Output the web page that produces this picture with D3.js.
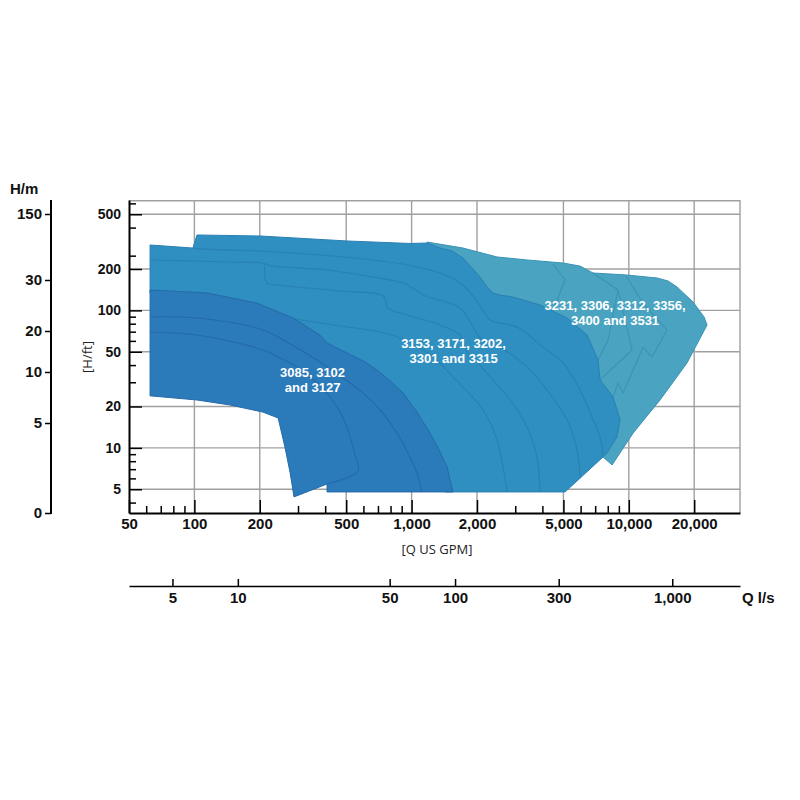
<!DOCTYPE html>
<html>
<head>
<meta charset="utf-8">
<script src="https://cdn.jsdelivr.net/npm/d3@7"></script>
<style>
  body { margin: 0; background: #fff; }
  text { font-family: "Liberation Sans", Arial, sans-serif; }
</style>
</head>
<body>
<div id="chart"></div>
<script>
// tick values
var gpmMajor = [50, 100, 200, 500, 1000, 2000, 5000, 10000, 20000];
var gpmMinor = [60, 70, 80, 90, 300, 400, 600, 700, 800, 900, 3000, 4000, 6000, 7000, 8000, 9000];
var ftMajor = [5, 10, 20, 50, 100, 200, 500];
var ftMinor = [4, 6, 7, 8, 9, 30, 40, 60, 70, 80, 90, 250, 400, 600];
var lsTicks = [5, 10, 50, 100, 300, 1000];
var mTicks = [0, 5, 10, 20, 30, 150];

// pump ranges, [Q US GPM, H ft]
var rangeC = [[1178,304],[1178,314],[1725,284],[2474,244.6],[3399,232.6],[4979,221],[5963,210],[6845,187],
  [9712,181],[13488,172],[15157,163.6],[16673,148],[19757,115],[22205,89.5],[22923,78.3],[18536,41.5],
  [13924,22.3],[10460,12.8],[8372,7.51],[7610,8.59],[6992,11.4],[6631,22.3],[5963,51.5],[4338,85.1],
  [2554,109.5],[1858,166.4],[1352,257],[1178,284]];
var rangeB = [[62.5,299],[98.5,284],[102.8,353.5],[200.5,347.6],[504,319.7],[984,306.6],[1178,309],
  [1352,284],[1535,270.4],[1725,240.5],[2066,175],[2224,148],[2371,133.8],[2554,129.4],[2931,125],
  [3900,109.5],[5195,88],[6423,66.2],[7218,43.6],[7373,31.2],[8461,23.5],[9113,16],[8827,12],
  [7940,9.18],[7610,8.59],[5086,4.78],[1425,4.78],[1352,7.26],[1129,12.8],[857,25.1],[644,35.6],
  [379,51.5],[200.5,97.3],[102.8,121],[62.5,133.8]];
var rangeA = [[62.5,140.7],[114,134],[194,113],[285,88],[379,66],[408,58],[435,55],[537,46.6],
  [610,42.2],[693,36.9],[796,30.7],[913,25.1],[1059,18.2],[1216,12.8],[1338,9.66],[1456,7.26],
  [1503,5.84],[1551,4.78],[408,4.78],[408,5.46],[287.5,4.4],[276,6.57],[261,10.2],[243,16.5],
  [207,18.2],[146,20.5],[102.8,22.3],[62.5,23.9]];

// single pump curves inside each range
var curvesC = [
  [[4479,217.5],[5086,166.4],[4338,88]],
  [[6845,187],[8921,140.7],[8024,61],[7218,43.6]],
  [[8921,140.7],[10350,51.5],[7373,31.2]],
  [[9712,177.9],[11628,113],[14998,72],[12792,45.8],[11628,54],[9407,25.1],[8921,29.7],[8461,23.5]]
];
var curvesB = [
  [[98.5,284],[106,280],[200.5,270.4],[435,248.7],[665,232.6],[953,214],[1352,187],[1725,153],
   [2133,100.7],[2297,85.1],[3058,75.7],[4026,54],[4979,41.5],[5963,26.4],[6845,16],[7373,12],[7610,8.73]],
  [[62.5,232.6],[146,225],[205,221],[228,210],[408,196.7],[665,175],[913,158],[1059,138.4],
   [1129,129.4],[1671,104],[1918,75.7],[2066,63],[2554,54],[3399,38.8],[4201,26.4],[5195,16],
   [5777,9.66],[5963,5.98]],
  [[211,220],[216,158],[240,153],[468,138.4],[739,127],[779,104],[953,92.6],[1352,78.3],[1671,66.2],
   [1800,49.8],[2001,42.2],[2297,32.8],[2840,22.3],[3399,14.2],[3778,8.59],[3900,4.78]],
  [[291,86.6],[468,77],[678,70.8],[885,63],[1255,45.8],[1551,32.8],[2133,18.9],[2474,11.4],
   [2636,7.26],[2751,4.78]]
];
var curvesA = [
  [[62.5,89.5],[102.8,88],[207,72],[276,57],[367,43.6],[468,33.3],[597,25.1],[731,18.2],[857,12.8],
   [973,8.88],[1059,6.57],[1117,4.78]],
  [[62.5,69.7],[102.8,66.2],[207,51.5],[248,45.1],[297,38.8],[359,30.7],[421,23.5],[478,17.1],
   [521,12],[549,8.88],[567,6.79],[408,5.46]]
];

var labelA = ["3085, 3102", "and 3127"], anchorA = [350, 31.2];
var labelB = ["3153, 3171, 3202,", "3301 and 3315"], anchorB = [1560, 50.8];
var labelC = ["3231, 3306, 3312, 3356,", "3400 and 3531"], anchorC = [8640, 95.3];

var plotL = 129, plotR = 740, plotT = 200, plotB = 513;

var svg = d3.select("#chart").append("svg")
  .attr("width", 800).attr("height", 800);

var x = d3.scaleLog().domain([50, 32500]).range([plotL, plotR]);
var y = d3.scaleLog().domain([3.36, 635]).range([plotB, plotT]);
// l/s axis: 1 l/s = 15.85 US GPM
var xl = d3.scaleLog().domain([50 / 15.85, 32500 / 15.85]).range([plotL, plotR]);
// metre scale of the original is not proportional, so piecewise
var ym = d3.scaleLinear().domain(mTicks).range([513, 423, 372, 331, 280, 214]);

// grid
var grid = svg.append("g").attr("stroke", "#a0a0a0").attr("stroke-width", 1.4);
grid.selectAll("line.v").data(gpmMajor.slice(1)).enter().append("line")
  .attr("x1", d => x(d)).attr("x2", d => x(d)).attr("y1", plotT).attr("y2", plotB);
grid.selectAll("line.h").data(ftMajor).enter().append("line")
  .attr("x1", plotL).attr("x2", plotR).attr("y1", d => y(d)).attr("y2", d => y(d));
grid.append("line").attr("x1", plotL).attr("x2", plotR).attr("y1", plotT + 0.7).attr("y2", plotT + 0.7);
grid.append("line").attr("x1", plotR).attr("x2", plotR).attr("y1", plotT).attr("y2", plotB);

// outlines keep their corners, pump curves of the two smaller ranges are smoothed
var outline = d3.line().x(d => x(d[0])).y(d => y(d[1]));
var smoothLine = d3.line().x(d => x(d[0])).y(d => y(d[1])).curve(d3.curveCatmullRom.alpha(0.5));

function drawRange(shape, curves, fill, stroke, lineGen) {
  svg.append("path").attr("d", outline(shape) + "Z")
    .attr("fill", fill).attr("stroke", stroke).attr("stroke-width", 1)
    .attr("stroke-linejoin", "round");
  svg.append("g").selectAll("path").data(curves).enter().append("path")
    .attr("d", d => lineGen(d))
    .attr("fill", "none").attr("stroke", stroke).attr("stroke-width", 1.1)
    .attr("stroke-linejoin", "round");
}
drawRange(rangeC, curvesC, "#4aa4c1", "#3893b5", outline);
drawRange(rangeB, curvesB, "#2e8fc0", "#2a80b3", smoothLine);
drawRange(rangeA, curvesA, "#2b7aba", "#256aa9", smoothLine);

function drawLabel(lines, anchor) {
  var t = svg.append("text")
    .attr("x", x(anchor[0])).attr("y", y(anchor[1]))
    .attr("text-anchor", "middle").attr("fill", "#fff")
    .attr("font-size", 13).attr("font-weight", "bold");
  lines.forEach(function(s, i) {
    t.append("tspan").attr("x", x(anchor[0]))
      .attr("dy", i === 0 ? "-0.25em" : "1.17em").text(s);
  });
}
drawLabel(labelA, anchorA);
drawLabel(labelB, anchorB);
drawLabel(labelC, anchorC);

function styleAxis(g, size) {
  g.attr("font-family", "Liberation Sans, Arial, sans-serif")
    .attr("font-size", size).attr("font-weight", "bold");
  g.selectAll(".tick line").attr("stroke-width", 1.5);
  g.selectAll(".domain").attr("stroke-width", 2);
  g.selectAll(".tick text").attr("fill", "#111");
}

// H ft axis
svg.append("g").attr("transform", "translate(" + plotL + ",0)")
  .call(d3.axisLeft(y).tickValues(ftMinor).tickSize(-7).tickSizeOuter(0).tickFormat(""))
  .call(g => g.select(".domain").remove())
  .call(g => g.selectAll(".tick line").attr("stroke-width", 1.5));
svg.append("g").attr("transform", "translate(" + plotL + ",0)")
  .call(d3.axisLeft(y).tickValues(ftMajor).tickSize(-13).tickSizeOuter(0).tickPadding(8).tickFormat(d3.format("d")))
  .call(g => styleAxis(g, 14));

// Q GPM axis
svg.append("g").attr("transform", "translate(0," + plotB + ")")
  .call(d3.axisBottom(x).tickValues(gpmMinor).tickSize(-7).tickSizeOuter(0).tickFormat(""))
  .call(g => g.select(".domain").remove())
  .call(g => g.selectAll(".tick line").attr("stroke-width", 1.5));
svg.append("g").attr("transform", "translate(0," + plotB + ")")
  .call(d3.axisBottom(x).tickValues(gpmMajor).tickSize(-13).tickSizeOuter(0).tickPadding(5).tickFormat(d3.format(",")))
  .call(g => styleAxis(g, 15));

// Q l/s axis
svg.append("g").attr("transform", "translate(0,586)")
  .call(d3.axisBottom(xl).tickValues(lsTicks).tickSize(-7).tickSizeOuter(0).tickPadding(6).tickFormat(d3.format(",")))
  .call(g => styleAxis(g, 15))
  .call(g => g.select(".domain").attr("stroke-width", 1.5));

// H m axis
svg.append("line").attr("x1", 51).attr("x2", 51).attr("y1", plotT).attr("y2", plotB + 1)
  .attr("stroke", "#000").attr("stroke-width", 2);
svg.append("g").attr("transform", "translate(51,0)")
  .call(d3.axisLeft(ym).tickValues(mTicks).tickSize(6).tickSizeOuter(0).tickPadding(3).tickFormat(d3.format("d")))
  .call(g => g.select(".domain").remove())
  .call(g => styleAxis(g, 15));

// titles
svg.append("text").attr("x", 10).attr("y", 194).text("H/m")
  .attr("font-size", 15).attr("font-weight", "bold").attr("fill", "#111");
svg.append("text").attr("x", 742).attr("y", 603).text("Q l/s")
  .attr("font-size", 15).attr("font-weight", "bold").attr("fill", "#111");
svg.append("text").attr("x", 437).attr("y", 554).attr("text-anchor", "middle")
  .style("font-family", "'Open Sans', sans-serif").attr("font-size", 13).attr("fill", "#222")
  .text("[Q US GPM]");
svg.append("text").attr("transform", "translate(92,357) rotate(-90)").attr("text-anchor", "middle")
  .style("font-family", "'Open Sans', sans-serif").attr("font-size", 13).attr("fill", "#222")
  .text("[H/ft]");
</script>
</body>
</html>
